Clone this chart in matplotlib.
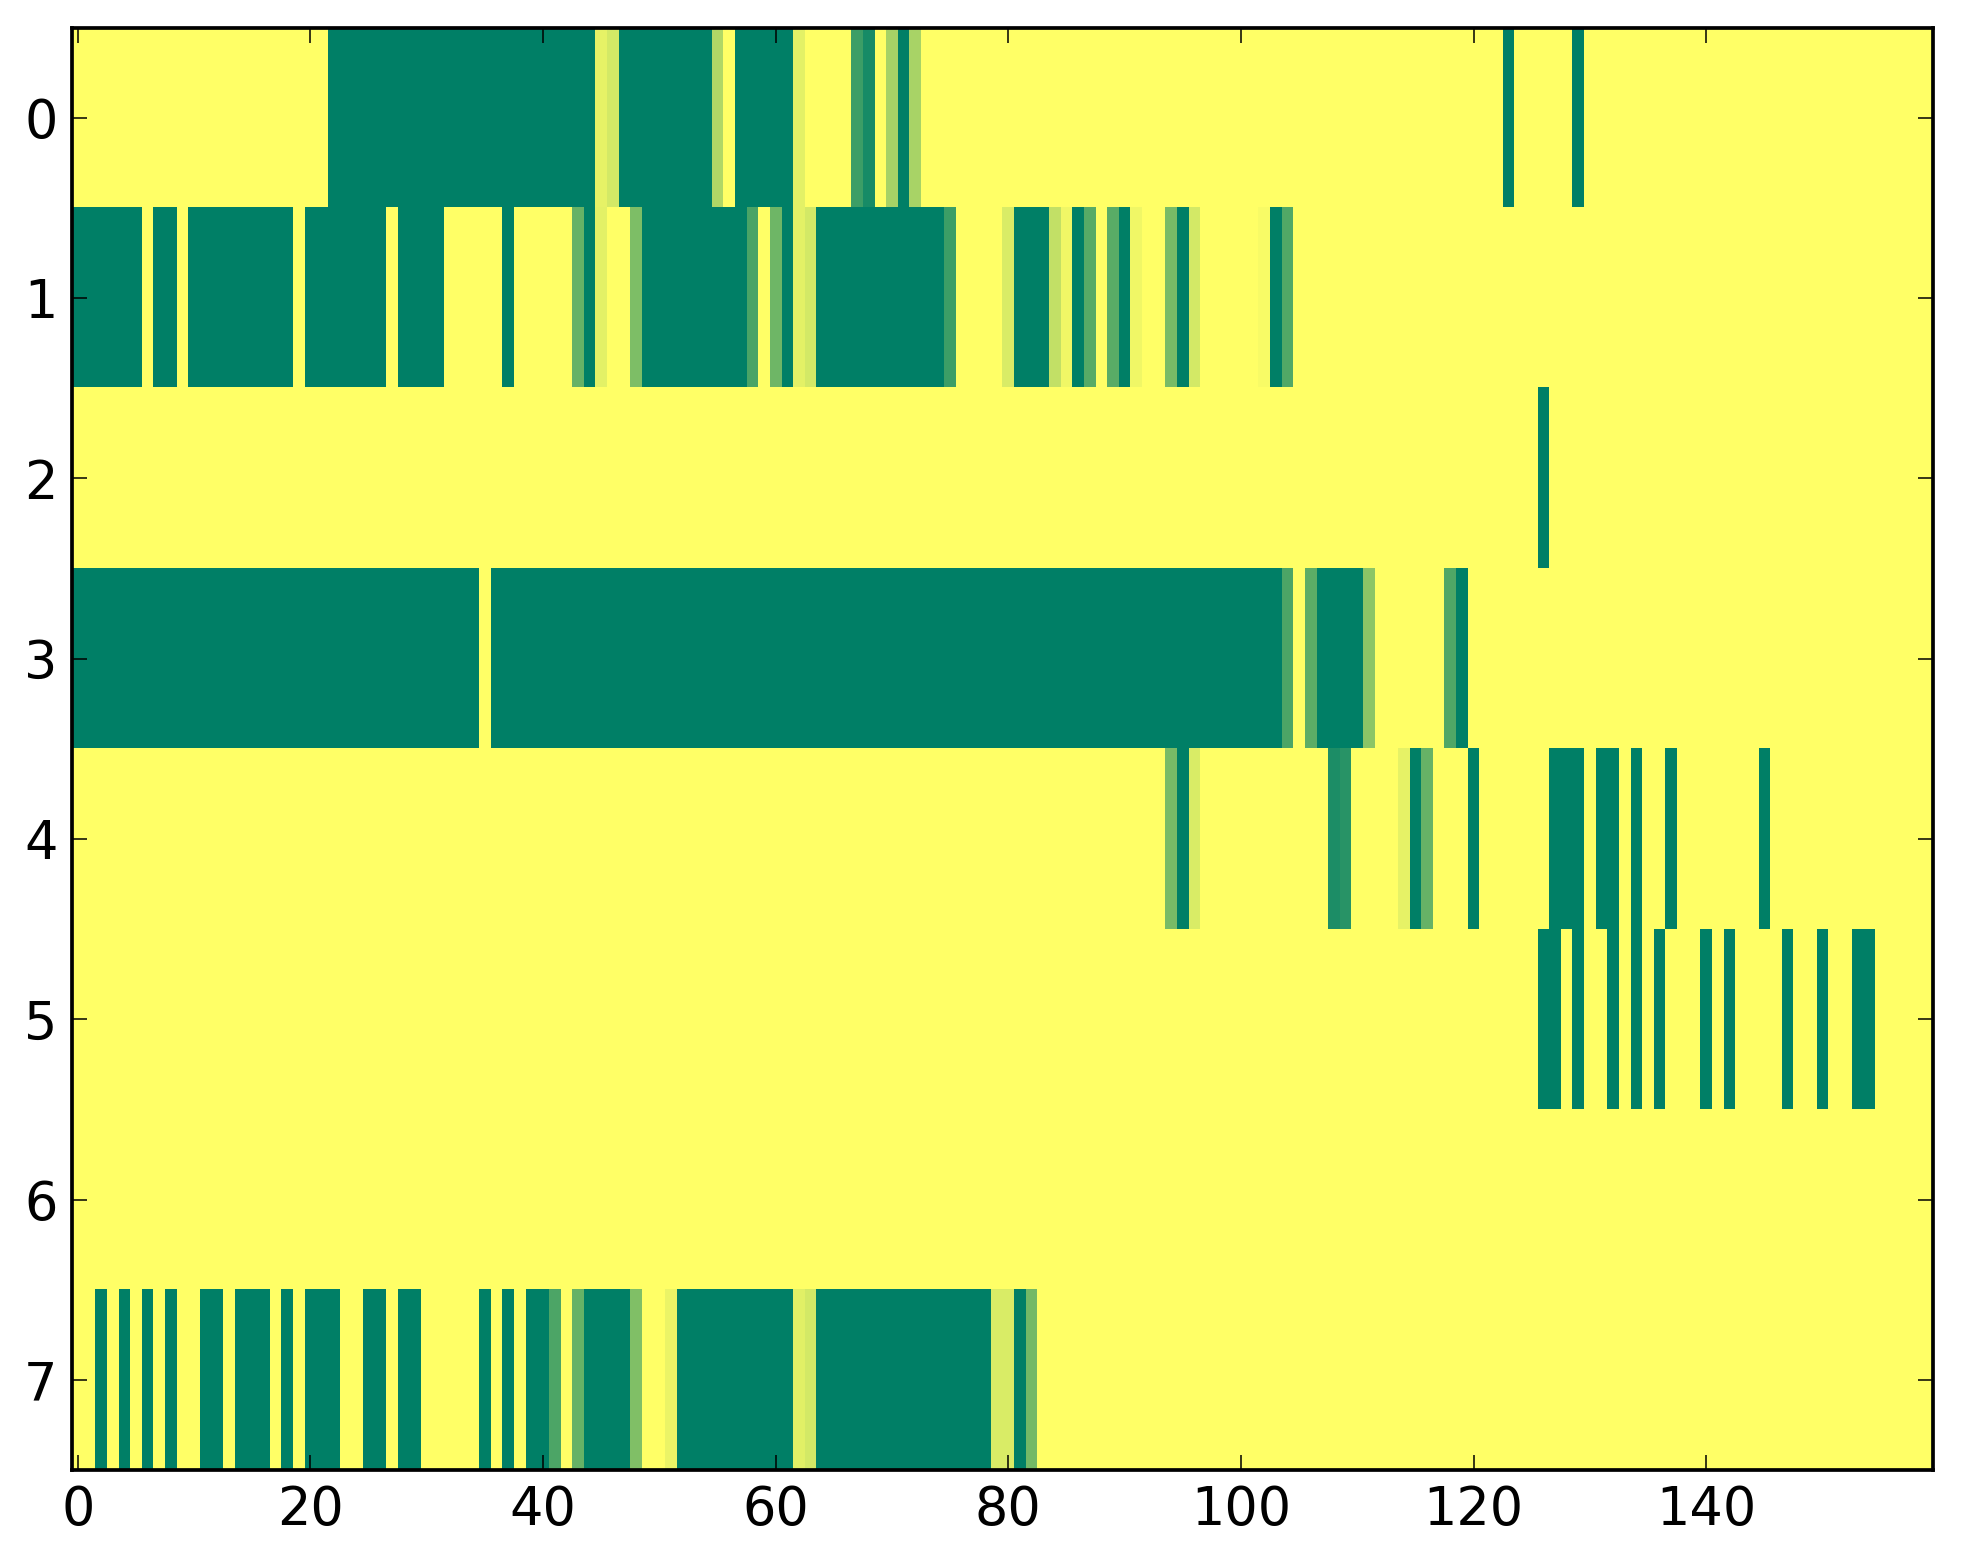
import numpy as np
import matplotlib
matplotlib.use("Agg")
from matplotlib import pyplot as plt

N_COLS = 160
N_ROWS = 8
BACKGROUND = 1.0  # yellow end of 'summer'

# each row: (first col, last col, value), inclusive; cells not listed are 1.0
row0 = [(22, 44, 0.0), (45, 45, 0.90), (46, 46, 0.83), (47, 54, 0.0), (55, 55, 0.69),
        (57, 61, 0.0), (62, 62, 0.89), (67, 67, 0.24), (68, 68, 0.09), (70, 70, 0.65),
        (71, 71, 0.0), (72, 72, 0.66), (123, 123, 0.0), (129, 129, 0.0)]
row1 = [(0, 5, 0.0), (7, 8, 0.0), (10, 18, 0.0), (20, 26, 0.0), (28, 31, 0.0),
        (37, 37, 0.0), (43, 43, 0.40), (44, 44, 0.0), (45, 45, 0.89), (48, 48, 0.49),
        (49, 57, 0.0), (58, 58, 0.29), (60, 60, 0.43), (61, 61, 0.0), (62, 62, 0.89),
        (63, 63, 0.83), (64, 74, 0.0), (75, 75, 0.24), (80, 80, 0.85), (81, 83, 0.0),
        (84, 84, 0.76), (85, 85, 0.94), (86, 86, 0.0), (87, 87, 0.34), (89, 89, 0.35),
        (90, 90, 0.0), (91, 91, 0.94), (94, 94, 0.47), (95, 95, 0.0), (96, 96, 0.83),
        (102, 102, 0.97), (103, 103, 0.0), (104, 104, 0.32)]
row2 = [(126, 126, 0.0)]
row3 = [(0, 34, 0.0), (36, 103, 0.0), (104, 104, 0.30), (106, 106, 0.36),
        (107, 110, 0.0), (111, 111, 0.55), (118, 118, 0.31), (119, 119, 0.0)]
row4 = [(94, 94, 0.47), (95, 95, 0.0), (96, 96, 0.85), (108, 108, 0.11),
        (109, 109, 0.16), (114, 114, 0.90), (115, 115, 0.0), (116, 116, 0.40),
        (120, 120, 0.0), (127, 129, 0.0), (131, 132, 0.0), (134, 134, 0.0),
        (137, 137, 0.0), (145, 145, 0.0)]
row5 = [(126, 127, 0.0), (129, 129, 0.0), (132, 132, 0.0), (134, 134, 0.0),
        (136, 136, 0.0), (140, 140, 0.0), (142, 142, 0.0), (147, 147, 0.0),
        (150, 150, 0.0), (153, 154, 0.0)]
row6 = []
row7 = [(2, 2, 0.0), (4, 4, 0.0), (6, 6, 0.0), (8, 8, 0.0), (11, 12, 0.0),
        (14, 16, 0.0), (18, 18, 0.0), (20, 22, 0.0), (25, 26, 0.0), (28, 29, 0.0),
        (35, 35, 0.0), (37, 37, 0.0), (39, 40, 0.0), (41, 41, 0.30), (43, 43, 0.40),
        (44, 47, 0.0), (48, 48, 0.50), (51, 51, 0.92), (52, 61, 0.0), (62, 62, 0.88),
        (63, 63, 0.83), (64, 78, 0.0), (79, 80, 0.85), (81, 81, 0.0), (82, 82, 0.45)]

rows = [row0, row1, row2, row3, row4, row5, row6, row7]

xticks = [0, 20, 40, 60, 80, 100, 120, 140]
yticks = [0, 1, 2, 3, 4, 5, 6, 7]

grid = np.full((N_ROWS, N_COLS), BACKGROUND)
for r, runs in enumerate(rows):
    for a, b, v in runs:
        grid[r, a:b + 1] = v

W, H, DPI = 1963, 1564, 315
fig = plt.figure(figsize=(W / DPI, H / DPI), dpi=DPI)
ax = fig.add_axes([72 / W, 1 - 1470 / H, (1933 - 72) / W, (1470 - 27.5) / H])

ax.imshow(grid, cmap='summer', vmin=0, vmax=1, aspect='auto', interpolation='nearest')

ax.set_xticks(xticks)
ax.set_yticks(yticks)
ax.set_xlim(-0.5, N_COLS - 0.5)
ax.set_ylim(N_ROWS - 0.5, -0.5)
ax.tick_params(direction='in', top=True, right=True, length=3.4, width=0.35,
               pad=3.3, labelsize=12)
for s in ax.spines.values():
    s.set_linewidth(0.85)

fig.savefig('out.png', dpi=DPI)
